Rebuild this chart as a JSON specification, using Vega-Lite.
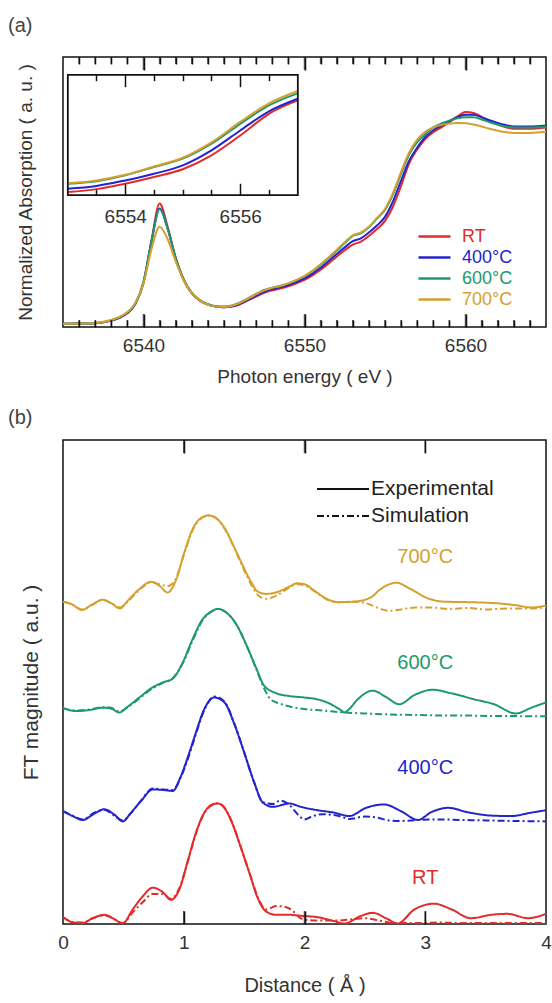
{
"$schema": "https://vega.github.io/schema/vega-lite/v6.json",
"padding": {"left": 7, "top": 15, "right": 5, "bottom": 3},
"background": "white",
"bounds": "flush",
"spacing": 113,
"config": {
  "font": "Liberation Sans",
  "view": {"stroke": "#111", "strokeWidth": 1.5},
  "axis": {"grid": false, "domain": false, "labelFontSize": 19, "labelColor": "#333", "labelFlush": false, "labelOverlap": false, "titleFontSize": 19, "titleFontWeight": "normal", "titleColor": "#333", "tickColor": "#111", "tickWidth": 1.5},
  "legend": {"labelFontSize": 18, "padding": 0},
  "title": {"fontWeight": "normal"}
},
"resolve": {"scale": {"color": "independent", "strokeDash": "independent"}, "legend": {"color": "independent", "strokeDash": "independent"}},
"datasets": {
"xanes": [
{"s":"RT","E":6535,"A":0.017},{"s":"RT","E":6536,"A":0.018},{"s":"RT","E":6537,"A":0.02},{"s":"RT","E":6538,"A":0.033},{"s":"RT","E":6538.5,"A":0.047},{"s":"RT","E":6539,"A":0.072},{"s":"RT","E":6539.5,"A":0.12},{"s":"RT","E":6540,"A":0.23},{"s":"RT","E":6540.5,"A":0.45},{"s":"RT","E":6541,"A":0.64},{"s":"RT","E":6541.5,"A":0.52},{"s":"RT","E":6542,"A":0.36},{"s":"RT","E":6542.5,"A":0.245},{"s":"RT","E":6543,"A":0.175},{"s":"RT","E":6543.5,"A":0.138},{"s":"RT","E":6544,"A":0.117},{"s":"RT","E":6544.5,"A":0.106},{"s":"RT","E":6545,"A":0.102},{"s":"RT","E":6545.5,"A":0.106},{"s":"RT","E":6546,"A":0.118},{"s":"RT","E":6546.5,"A":0.138},{"s":"RT","E":6547,"A":0.158},{"s":"RT","E":6547.5,"A":0.177},{"s":"RT","E":6548,"A":0.19},{"s":"RT","E":6548.5,"A":0.2},{"s":"RT","E":6549,"A":0.211},{"s":"RT","E":6549.5,"A":0.226},{"s":"RT","E":6550,"A":0.244},{"s":"RT","E":6550.5,"A":0.268},{"s":"RT","E":6551,"A":0.297},{"s":"RT","E":6551.5,"A":0.33},{"s":"RT","E":6552,"A":0.365},{"s":"RT","E":6552.5,"A":0.398},{"s":"RT","E":6553,"A":0.427},{"s":"RT","E":6553.5,"A":0.443},{"s":"RT","E":6554,"A":0.472},{"s":"RT","E":6554.5,"A":0.508},{"s":"RT","E":6555,"A":0.55},{"s":"RT","E":6555.5,"A":0.625},{"s":"RT","E":6556,"A":0.732},{"s":"RT","E":6556.5,"A":0.849},{"s":"RT","E":6557,"A":0.921},{"s":"RT","E":6557.5,"A":0.975},{"s":"RT","E":6558,"A":1.01},{"s":"RT","E":6558.5,"A":1.035},{"s":"RT","E":6559,"A":1.062},{"s":"RT","E":6559.5,"A":1.092},{"s":"RT","E":6560,"A":1.115},{"s":"RT","E":6560.5,"A":1.11},{"s":"RT","E":6561,"A":1.09},{"s":"RT","E":6561.5,"A":1.068},{"s":"RT","E":6562,"A":1.05},{"s":"RT","E":6562.5,"A":1.036},{"s":"RT","E":6563,"A":1.028},{"s":"RT","E":6564,"A":1.028},{"s":"RT","E":6565,"A":1.035},
{"s":"400°C","E":6535,"A":0.017},{"s":"400°C","E":6536,"A":0.018},{"s":"400°C","E":6537,"A":0.02},{"s":"400°C","E":6538,"A":0.033},{"s":"400°C","E":6538.5,"A":0.047},{"s":"400°C","E":6539,"A":0.072},{"s":"400°C","E":6539.5,"A":0.12},{"s":"400°C","E":6540,"A":0.23},{"s":"400°C","E":6540.5,"A":0.445},{"s":"400°C","E":6541,"A":0.615},{"s":"400°C","E":6541.5,"A":0.51},{"s":"400°C","E":6542,"A":0.355},{"s":"400°C","E":6542.5,"A":0.243},{"s":"400°C","E":6543,"A":0.174},{"s":"400°C","E":6543.5,"A":0.137},{"s":"400°C","E":6544,"A":0.116},{"s":"400°C","E":6544.5,"A":0.106},{"s":"400°C","E":6545,"A":0.103},{"s":"400°C","E":6545.5,"A":0.108},{"s":"400°C","E":6546,"A":0.121},{"s":"400°C","E":6546.5,"A":0.142},{"s":"400°C","E":6547,"A":0.163},{"s":"400°C","E":6547.5,"A":0.183},{"s":"400°C","E":6548,"A":0.196},{"s":"400°C","E":6548.5,"A":0.206},{"s":"400°C","E":6549,"A":0.217},{"s":"400°C","E":6549.5,"A":0.233},{"s":"400°C","E":6550,"A":0.252},{"s":"400°C","E":6550.5,"A":0.277},{"s":"400°C","E":6551,"A":0.307},{"s":"400°C","E":6551.5,"A":0.342},{"s":"400°C","E":6552,"A":0.378},{"s":"400°C","E":6552.5,"A":0.413},{"s":"400°C","E":6553,"A":0.445},{"s":"400°C","E":6553.5,"A":0.46},{"s":"400°C","E":6554,"A":0.49},{"s":"400°C","E":6554.5,"A":0.526},{"s":"400°C","E":6555,"A":0.571},{"s":"400°C","E":6555.5,"A":0.652},{"s":"400°C","E":6556,"A":0.759},{"s":"400°C","E":6556.5,"A":0.862},{"s":"400°C","E":6557,"A":0.93},{"s":"400°C","E":6557.5,"A":0.985},{"s":"400°C","E":6558,"A":1.02},{"s":"400°C","E":6558.5,"A":1.045},{"s":"400°C","E":6559,"A":1.068},{"s":"400°C","E":6559.5,"A":1.088},{"s":"400°C","E":6560,"A":1.1},{"s":"400°C","E":6560.5,"A":1.1},{"s":"400°C","E":6561,"A":1.087},{"s":"400°C","E":6561.5,"A":1.072},{"s":"400°C","E":6562,"A":1.058},{"s":"400°C","E":6562.5,"A":1.047},{"s":"400°C","E":6563,"A":1.04},{"s":"400°C","E":6564,"A":1.04},{"s":"400°C","E":6565,"A":1.045},
{"s":"600°C","E":6535,"A":0.017},{"s":"600°C","E":6536,"A":0.018},{"s":"600°C","E":6537,"A":0.021},{"s":"600°C","E":6538,"A":0.035},{"s":"600°C","E":6538.5,"A":0.05},{"s":"600°C","E":6539,"A":0.076},{"s":"600°C","E":6539.5,"A":0.125},{"s":"600°C","E":6540,"A":0.235},{"s":"600°C","E":6540.5,"A":0.445},{"s":"600°C","E":6541,"A":0.61},{"s":"600°C","E":6541.5,"A":0.51},{"s":"600°C","E":6542,"A":0.358},{"s":"600°C","E":6542.5,"A":0.247},{"s":"600°C","E":6543,"A":0.178},{"s":"600°C","E":6543.5,"A":0.14},{"s":"600°C","E":6544,"A":0.118},{"s":"600°C","E":6544.5,"A":0.108},{"s":"600°C","E":6545,"A":0.106},{"s":"600°C","E":6545.5,"A":0.112},{"s":"600°C","E":6546,"A":0.127},{"s":"600°C","E":6546.5,"A":0.149},{"s":"600°C","E":6547,"A":0.172},{"s":"600°C","E":6547.5,"A":0.192},{"s":"600°C","E":6548,"A":0.204},{"s":"600°C","E":6548.5,"A":0.214},{"s":"600°C","E":6549,"A":0.226},{"s":"600°C","E":6549.5,"A":0.243},{"s":"600°C","E":6550,"A":0.263},{"s":"600°C","E":6550.5,"A":0.29},{"s":"600°C","E":6551,"A":0.322},{"s":"600°C","E":6551.5,"A":0.358},{"s":"600°C","E":6552,"A":0.395},{"s":"600°C","E":6552.5,"A":0.435},{"s":"600°C","E":6553,"A":0.472},{"s":"600°C","E":6553.5,"A":0.486},{"s":"600°C","E":6554,"A":0.517},{"s":"600°C","E":6554.5,"A":0.562},{"s":"600°C","E":6555,"A":0.607},{"s":"600°C","E":6555.5,"A":0.688},{"s":"600°C","E":6556,"A":0.795},{"s":"600°C","E":6556.5,"A":0.894},{"s":"600°C","E":6557,"A":0.959},{"s":"600°C","E":6557.5,"A":1.0},{"s":"600°C","E":6558,"A":1.035},{"s":"600°C","E":6558.5,"A":1.055},{"s":"600°C","E":6559,"A":1.07},{"s":"600°C","E":6559.5,"A":1.082},{"s":"600°C","E":6560,"A":1.088},{"s":"600°C","E":6560.5,"A":1.088},{"s":"600°C","E":6561,"A":1.076},{"s":"600°C","E":6561.5,"A":1.062},{"s":"600°C","E":6562,"A":1.05},{"s":"600°C","E":6562.5,"A":1.04},{"s":"600°C","E":6563,"A":1.034},{"s":"600°C","E":6564,"A":1.034},{"s":"600°C","E":6565,"A":1.04},
{"s":"700°C","E":6535,"A":0.017},{"s":"700°C","E":6536,"A":0.018},{"s":"700°C","E":6537,"A":0.021},{"s":"700°C","E":6538,"A":0.036},{"s":"700°C","E":6538.5,"A":0.052},{"s":"700°C","E":6539,"A":0.078},{"s":"700°C","E":6539.5,"A":0.125},{"s":"700°C","E":6540,"A":0.225},{"s":"700°C","E":6540.5,"A":0.405},{"s":"700°C","E":6541,"A":0.52},{"s":"700°C","E":6541.5,"A":0.455},{"s":"700°C","E":6542,"A":0.34},{"s":"700°C","E":6542.5,"A":0.24},{"s":"700°C","E":6543,"A":0.175},{"s":"700°C","E":6543.5,"A":0.138},{"s":"700°C","E":6544,"A":0.116},{"s":"700°C","E":6544.5,"A":0.106},{"s":"700°C","E":6545,"A":0.104},{"s":"700°C","E":6545.5,"A":0.11},{"s":"700°C","E":6546,"A":0.125},{"s":"700°C","E":6546.5,"A":0.147},{"s":"700°C","E":6547,"A":0.17},{"s":"700°C","E":6547.5,"A":0.19},{"s":"700°C","E":6548,"A":0.203},{"s":"700°C","E":6548.5,"A":0.213},{"s":"700°C","E":6549,"A":0.226},{"s":"700°C","E":6549.5,"A":0.244},{"s":"700°C","E":6550,"A":0.265},{"s":"700°C","E":6550.5,"A":0.292},{"s":"700°C","E":6551,"A":0.325},{"s":"700°C","E":6551.5,"A":0.362},{"s":"700°C","E":6552,"A":0.4},{"s":"700°C","E":6552.5,"A":0.44},{"s":"700°C","E":6553,"A":0.475},{"s":"700°C","E":6553.5,"A":0.49},{"s":"700°C","E":6554,"A":0.52},{"s":"700°C","E":6554.5,"A":0.565},{"s":"700°C","E":6555,"A":0.612},{"s":"700°C","E":6555.5,"A":0.695},{"s":"700°C","E":6556,"A":0.805},{"s":"700°C","E":6556.5,"A":0.905},{"s":"700°C","E":6557,"A":0.972},{"s":"700°C","E":6557.5,"A":1.012},{"s":"700°C","E":6558,"A":1.035},{"s":"700°C","E":6558.5,"A":1.048},{"s":"700°C","E":6559,"A":1.055},{"s":"700°C","E":6559.5,"A":1.058},{"s":"700°C","E":6560,"A":1.057},{"s":"700°C","E":6560.5,"A":1.05},{"s":"700°C","E":6561,"A":1.04},{"s":"700°C","E":6561.5,"A":1.028},{"s":"700°C","E":6562,"A":1.018},{"s":"700°C","E":6562.5,"A":1.01},{"s":"700°C","E":6563,"A":1.006},{"s":"700°C","E":6564,"A":1.006},{"s":"700°C","E":6565,"A":1.012}
],
"xticks": [
{"E":6540,"k":"major"},{"E":6550,"k":"major"},{"E":6560,"k":"major"},
{"E":6536,"k":"minor"},{"E":6537,"k":"minor"},{"E":6538,"k":"minor"},{"E":6539,"k":"minor"},{"E":6541,"k":"minor"},{"E":6542,"k":"minor"},{"E":6543,"k":"minor"},{"E":6544,"k":"minor"},{"E":6545,"k":"minor"},{"E":6546,"k":"minor"},{"E":6547,"k":"minor"},{"E":6548,"k":"minor"},{"E":6549,"k":"minor"},{"E":6551,"k":"minor"},{"E":6552,"k":"minor"},{"E":6553,"k":"minor"},{"E":6554,"k":"minor"},{"E":6555,"k":"minor"},{"E":6556,"k":"minor"},{"E":6557,"k":"minor"},{"E":6558,"k":"minor"},{"E":6559,"k":"minor"},{"E":6561,"k":"minor"},{"E":6562,"k":"minor"},{"E":6563,"k":"minor"},{"E":6564,"k":"minor"}
],
"rticks": [{"R":1},{"R":2},{"R":3}],
"ft": [
{"s":"700°C","t":"Experimental","R":0,"FT":6.66},{"s":"700°C","t":"Experimental","R":0.07,"FT":6.61},{"s":"700°C","t":"Experimental","R":0.157,"FT":6.49},{"s":"700°C","t":"Experimental","R":0.246,"FT":6.61},{"s":"700°C","t":"Experimental","R":0.329,"FT":6.7},{"s":"700°C","t":"Experimental","R":0.398,"FT":6.63},{"s":"700°C","t":"Experimental","R":0.472,"FT":6.52},{"s":"700°C","t":"Experimental","R":0.536,"FT":6.68},{"s":"700°C","t":"Experimental","R":0.632,"FT":6.92},{"s":"700°C","t":"Experimental","R":0.729,"FT":7.07},{"s":"700°C","t":"Experimental","R":0.798,"FT":6.99},{"s":"700°C","t":"Experimental","R":0.867,"FT":6.85},{"s":"700°C","t":"Experimental","R":0.936,"FT":7.11},{"s":"700°C","t":"Experimental","R":1.005,"FT":7.68},{"s":"700°C","t":"Experimental","R":1.074,"FT":8.16},{"s":"700°C","t":"Experimental","R":1.143,"FT":8.39},{"s":"700°C","t":"Experimental","R":1.206,"FT":8.44},{"s":"700°C","t":"Experimental","R":1.281,"FT":8.36},{"s":"700°C","t":"Experimental","R":1.35,"FT":8.13},{"s":"700°C","t":"Experimental","R":1.419,"FT":7.78},{"s":"700°C","t":"Experimental","R":1.488,"FT":7.41},{"s":"700°C","t":"Experimental","R":1.557,"FT":7.07},{"s":"700°C","t":"Experimental","R":1.612,"FT":6.87},{"s":"700°C","t":"Experimental","R":1.681,"FT":6.82},{"s":"700°C","t":"Experimental","R":1.764,"FT":6.85},{"s":"700°C","t":"Experimental","R":1.874,"FT":6.97},{"s":"700°C","t":"Experimental","R":1.94,"FT":7.04},{"s":"700°C","t":"Experimental","R":2.0,"FT":7.02},{"s":"700°C","t":"Experimental","R":2.08,"FT":6.89},{"s":"700°C","t":"Experimental","R":2.19,"FT":6.71},{"s":"700°C","t":"Experimental","R":2.275,"FT":6.65},{"s":"700°C","t":"Experimental","R":2.41,"FT":6.66},{"s":"700°C","t":"Experimental","R":2.55,"FT":6.75},{"s":"700°C","t":"Experimental","R":2.63,"FT":6.92},{"s":"700°C","t":"Experimental","R":2.76,"FT":7.05},{"s":"700°C","t":"Experimental","R":2.88,"FT":6.92},{"s":"700°C","t":"Experimental","R":3.02,"FT":6.73},{"s":"700°C","t":"Experimental","R":3.16,"FT":6.66},{"s":"700°C","t":"Experimental","R":3.35,"FT":6.65},{"s":"700°C","t":"Experimental","R":3.57,"FT":6.63},{"s":"700°C","t":"Experimental","R":3.74,"FT":6.59},{"s":"700°C","t":"Experimental","R":3.88,"FT":6.54},{"s":"700°C","t":"Experimental","R":4.0,"FT":6.58},
{"s":"700°C","t":"Simulation","R":0,"FT":6.66},{"s":"700°C","t":"Simulation","R":0.07,"FT":6.61},{"s":"700°C","t":"Simulation","R":0.157,"FT":6.5},{"s":"700°C","t":"Simulation","R":0.246,"FT":6.6},{"s":"700°C","t":"Simulation","R":0.329,"FT":6.69},{"s":"700°C","t":"Simulation","R":0.398,"FT":6.63},{"s":"700°C","t":"Simulation","R":0.472,"FT":6.54},{"s":"700°C","t":"Simulation","R":0.536,"FT":6.66},{"s":"700°C","t":"Simulation","R":0.632,"FT":6.9},{"s":"700°C","t":"Simulation","R":0.729,"FT":7.06},{"s":"700°C","t":"Simulation","R":0.798,"FT":7.02},{"s":"700°C","t":"Simulation","R":0.867,"FT":6.98},{"s":"700°C","t":"Simulation","R":0.936,"FT":7.14},{"s":"700°C","t":"Simulation","R":1.005,"FT":7.66},{"s":"700°C","t":"Simulation","R":1.074,"FT":8.14},{"s":"700°C","t":"Simulation","R":1.143,"FT":8.38},{"s":"700°C","t":"Simulation","R":1.206,"FT":8.44},{"s":"700°C","t":"Simulation","R":1.281,"FT":8.36},{"s":"700°C","t":"Simulation","R":1.35,"FT":8.12},{"s":"700°C","t":"Simulation","R":1.419,"FT":7.76},{"s":"700°C","t":"Simulation","R":1.488,"FT":7.38},{"s":"700°C","t":"Simulation","R":1.557,"FT":7.02},{"s":"700°C","t":"Simulation","R":1.612,"FT":6.8},{"s":"700°C","t":"Simulation","R":1.681,"FT":6.72},{"s":"700°C","t":"Simulation","R":1.764,"FT":6.78},{"s":"700°C","t":"Simulation","R":1.874,"FT":6.95},{"s":"700°C","t":"Simulation","R":1.94,"FT":7.02},{"s":"700°C","t":"Simulation","R":2.0,"FT":7.0},{"s":"700°C","t":"Simulation","R":2.08,"FT":6.88},{"s":"700°C","t":"Simulation","R":2.19,"FT":6.7},{"s":"700°C","t":"Simulation","R":2.275,"FT":6.65},{"s":"700°C","t":"Simulation","R":2.41,"FT":6.66},{"s":"700°C","t":"Simulation","R":2.52,"FT":6.62},{"s":"700°C","t":"Simulation","R":2.6,"FT":6.54},{"s":"700°C","t":"Simulation","R":2.7,"FT":6.47},{"s":"700°C","t":"Simulation","R":2.8,"FT":6.5},{"s":"700°C","t":"Simulation","R":2.92,"FT":6.54},{"s":"700°C","t":"Simulation","R":3.05,"FT":6.54},{"s":"700°C","t":"Simulation","R":3.2,"FT":6.51},{"s":"700°C","t":"Simulation","R":3.35,"FT":6.53},{"s":"700°C","t":"Simulation","R":3.5,"FT":6.5},{"s":"700°C","t":"Simulation","R":3.7,"FT":6.52},{"s":"700°C","t":"Simulation","R":3.88,"FT":6.52},{"s":"700°C","t":"Simulation","R":4.0,"FT":6.54},
{"s":"600°C","t":"Experimental","R":0,"FT":4.46},{"s":"600°C","t":"Experimental","R":0.108,"FT":4.4},{"s":"600°C","t":"Experimental","R":0.218,"FT":4.42},{"s":"600°C","t":"Experimental","R":0.329,"FT":4.47},{"s":"600°C","t":"Experimental","R":0.398,"FT":4.45},{"s":"600°C","t":"Experimental","R":0.466,"FT":4.37},{"s":"600°C","t":"Experimental","R":0.536,"FT":4.49},{"s":"600°C","t":"Experimental","R":0.632,"FT":4.68},{"s":"600°C","t":"Experimental","R":0.743,"FT":4.89},{"s":"600°C","t":"Experimental","R":0.826,"FT":4.99},{"s":"600°C","t":"Experimental","R":0.909,"FT":5.07},{"s":"600°C","t":"Experimental","R":0.991,"FT":5.4},{"s":"600°C","t":"Experimental","R":1.074,"FT":5.89},{"s":"600°C","t":"Experimental","R":1.157,"FT":6.3},{"s":"600°C","t":"Experimental","R":1.226,"FT":6.45},{"s":"600°C","t":"Experimental","R":1.281,"FT":6.51},{"s":"600°C","t":"Experimental","R":1.35,"FT":6.44},{"s":"600°C","t":"Experimental","R":1.433,"FT":6.2},{"s":"600°C","t":"Experimental","R":1.516,"FT":5.78},{"s":"600°C","t":"Experimental","R":1.598,"FT":5.3},{"s":"600°C","t":"Experimental","R":1.667,"FT":4.92},{"s":"600°C","t":"Experimental","R":1.764,"FT":4.77},{"s":"600°C","t":"Experimental","R":1.874,"FT":4.71},{"s":"600°C","t":"Experimental","R":2.0,"FT":4.68},{"s":"600°C","t":"Experimental","R":2.11,"FT":4.64},{"s":"600°C","t":"Experimental","R":2.22,"FT":4.54},{"s":"600°C","t":"Experimental","R":2.3,"FT":4.42},{"s":"600°C","t":"Experimental","R":2.33,"FT":4.37},{"s":"600°C","t":"Experimental","R":2.37,"FT":4.44},{"s":"600°C","t":"Experimental","R":2.44,"FT":4.64},{"s":"600°C","t":"Experimental","R":2.565,"FT":4.82},{"s":"600°C","t":"Experimental","R":2.675,"FT":4.69},{"s":"600°C","t":"Experimental","R":2.785,"FT":4.54},{"s":"600°C","t":"Experimental","R":2.91,"FT":4.73},{"s":"600°C","t":"Experimental","R":3.06,"FT":4.84},{"s":"600°C","t":"Experimental","R":3.21,"FT":4.77},{"s":"600°C","t":"Experimental","R":3.41,"FT":4.64},{"s":"600°C","t":"Experimental","R":3.57,"FT":4.54},{"s":"600°C","t":"Experimental","R":3.75,"FT":4.35},{"s":"600°C","t":"Experimental","R":3.88,"FT":4.47},{"s":"600°C","t":"Experimental","R":4.0,"FT":4.58},
{"s":"600°C","t":"Simulation","R":0,"FT":4.46},{"s":"600°C","t":"Simulation","R":0.108,"FT":4.41},{"s":"600°C","t":"Simulation","R":0.218,"FT":4.43},{"s":"600°C","t":"Simulation","R":0.329,"FT":4.48},{"s":"600°C","t":"Simulation","R":0.398,"FT":4.47},{"s":"600°C","t":"Simulation","R":0.466,"FT":4.39},{"s":"600°C","t":"Simulation","R":0.536,"FT":4.48},{"s":"600°C","t":"Simulation","R":0.632,"FT":4.66},{"s":"600°C","t":"Simulation","R":0.743,"FT":4.87},{"s":"600°C","t":"Simulation","R":0.826,"FT":4.98},{"s":"600°C","t":"Simulation","R":0.909,"FT":5.08},{"s":"600°C","t":"Simulation","R":0.991,"FT":5.38},{"s":"600°C","t":"Simulation","R":1.074,"FT":5.86},{"s":"600°C","t":"Simulation","R":1.157,"FT":6.28},{"s":"600°C","t":"Simulation","R":1.226,"FT":6.45},{"s":"600°C","t":"Simulation","R":1.281,"FT":6.51},{"s":"600°C","t":"Simulation","R":1.35,"FT":6.44},{"s":"600°C","t":"Simulation","R":1.433,"FT":6.2},{"s":"600°C","t":"Simulation","R":1.516,"FT":5.78},{"s":"600°C","t":"Simulation","R":1.598,"FT":5.28},{"s":"600°C","t":"Simulation","R":1.667,"FT":4.86},{"s":"600°C","t":"Simulation","R":1.72,"FT":4.64},{"s":"600°C","t":"Simulation","R":1.8,"FT":4.55},{"s":"600°C","t":"Simulation","R":1.9,"FT":4.48},{"s":"600°C","t":"Simulation","R":2.0,"FT":4.44},{"s":"600°C","t":"Simulation","R":2.15,"FT":4.41},{"s":"600°C","t":"Simulation","R":2.33,"FT":4.37},{"s":"600°C","t":"Simulation","R":2.5,"FT":4.35},{"s":"600°C","t":"Simulation","R":2.7,"FT":4.33},{"s":"600°C","t":"Simulation","R":2.9,"FT":4.32},{"s":"600°C","t":"Simulation","R":3.1,"FT":4.31},{"s":"600°C","t":"Simulation","R":3.3,"FT":4.31},{"s":"600°C","t":"Simulation","R":3.5,"FT":4.3},{"s":"600°C","t":"Simulation","R":3.7,"FT":4.3},{"s":"600°C","t":"Simulation","R":3.85,"FT":4.29},{"s":"600°C","t":"Simulation","R":4.0,"FT":4.29},
{"s":"400°C","t":"Experimental","R":0,"FT":2.33},{"s":"400°C","t":"Experimental","R":0.08,"FT":2.23},{"s":"400°C","t":"Experimental","R":0.163,"FT":2.15},{"s":"400°C","t":"Experimental","R":0.26,"FT":2.28},{"s":"400°C","t":"Experimental","R":0.342,"FT":2.37},{"s":"400°C","t":"Experimental","R":0.425,"FT":2.26},{"s":"400°C","t":"Experimental","R":0.494,"FT":2.12},{"s":"400°C","t":"Experimental","R":0.563,"FT":2.3},{"s":"400°C","t":"Experimental","R":0.646,"FT":2.54},{"s":"400°C","t":"Experimental","R":0.743,"FT":2.78},{"s":"400°C","t":"Experimental","R":0.826,"FT":2.77},{"s":"400°C","t":"Experimental","R":0.909,"FT":2.75},{"s":"400°C","t":"Experimental","R":0.977,"FT":3.06},{"s":"400°C","t":"Experimental","R":1.046,"FT":3.54},{"s":"400°C","t":"Experimental","R":1.1,"FT":3.95},{"s":"400°C","t":"Experimental","R":1.17,"FT":4.44},{"s":"400°C","t":"Experimental","R":1.253,"FT":4.68},{"s":"400°C","t":"Experimental","R":1.336,"FT":4.58},{"s":"400°C","t":"Experimental","R":1.419,"FT":4.13},{"s":"400°C","t":"Experimental","R":1.501,"FT":3.54},{"s":"400°C","t":"Experimental","R":1.584,"FT":2.92},{"s":"400°C","t":"Experimental","R":1.654,"FT":2.51},{"s":"400°C","t":"Experimental","R":1.737,"FT":2.42},{"s":"400°C","t":"Experimental","R":1.874,"FT":2.49},{"s":"400°C","t":"Experimental","R":1.971,"FT":2.42},{"s":"400°C","t":"Experimental","R":2.11,"FT":2.35},{"s":"400°C","t":"Experimental","R":2.247,"FT":2.3},{"s":"400°C","t":"Experimental","R":2.37,"FT":2.23},{"s":"400°C","t":"Experimental","R":2.51,"FT":2.4},{"s":"400°C","t":"Experimental","R":2.66,"FT":2.47},{"s":"400°C","t":"Experimental","R":2.8,"FT":2.33},{"s":"400°C","t":"Experimental","R":2.94,"FT":2.15},{"s":"400°C","t":"Experimental","R":3.05,"FT":2.31},{"s":"400°C","t":"Experimental","R":3.19,"FT":2.4},{"s":"400°C","t":"Experimental","R":3.35,"FT":2.31},{"s":"400°C","t":"Experimental","R":3.545,"FT":2.24},{"s":"400°C","t":"Experimental","R":3.71,"FT":2.23},{"s":"400°C","t":"Experimental","R":3.876,"FT":2.3},{"s":"400°C","t":"Experimental","R":4.0,"FT":2.35},
{"s":"400°C","t":"Simulation","R":0,"FT":2.33},{"s":"400°C","t":"Simulation","R":0.08,"FT":2.24},{"s":"400°C","t":"Simulation","R":0.163,"FT":2.16},{"s":"400°C","t":"Simulation","R":0.26,"FT":2.3},{"s":"400°C","t":"Simulation","R":0.342,"FT":2.36},{"s":"400°C","t":"Simulation","R":0.425,"FT":2.24},{"s":"400°C","t":"Simulation","R":0.494,"FT":2.14},{"s":"400°C","t":"Simulation","R":0.563,"FT":2.29},{"s":"400°C","t":"Simulation","R":0.646,"FT":2.55},{"s":"400°C","t":"Simulation","R":0.743,"FT":2.8},{"s":"400°C","t":"Simulation","R":0.826,"FT":2.78},{"s":"400°C","t":"Simulation","R":0.909,"FT":2.77},{"s":"400°C","t":"Simulation","R":0.977,"FT":3.04},{"s":"400°C","t":"Simulation","R":1.046,"FT":3.5},{"s":"400°C","t":"Simulation","R":1.1,"FT":3.92},{"s":"400°C","t":"Simulation","R":1.17,"FT":4.42},{"s":"400°C","t":"Simulation","R":1.253,"FT":4.7},{"s":"400°C","t":"Simulation","R":1.336,"FT":4.6},{"s":"400°C","t":"Simulation","R":1.419,"FT":4.14},{"s":"400°C","t":"Simulation","R":1.501,"FT":3.54},{"s":"400°C","t":"Simulation","R":1.584,"FT":2.92},{"s":"400°C","t":"Simulation","R":1.654,"FT":2.52},{"s":"400°C","t":"Simulation","R":1.737,"FT":2.48},{"s":"400°C","t":"Simulation","R":1.8,"FT":2.55},{"s":"400°C","t":"Simulation","R":1.874,"FT":2.46},{"s":"400°C","t":"Simulation","R":1.95,"FT":2.25},{"s":"400°C","t":"Simulation","R":2.0,"FT":2.16},{"s":"400°C","t":"Simulation","R":2.06,"FT":2.22},{"s":"400°C","t":"Simulation","R":2.15,"FT":2.27},{"s":"400°C","t":"Simulation","R":2.3,"FT":2.22},{"s":"400°C","t":"Simulation","R":2.37,"FT":2.17},{"s":"400°C","t":"Simulation","R":2.5,"FT":2.22},{"s":"400°C","t":"Simulation","R":2.6,"FT":2.2},{"s":"400°C","t":"Simulation","R":2.7,"FT":2.14},{"s":"400°C","t":"Simulation","R":2.8,"FT":2.13},{"s":"400°C","t":"Simulation","R":2.94,"FT":2.15},{"s":"400°C","t":"Simulation","R":3.1,"FT":2.16},{"s":"400°C","t":"Simulation","R":3.3,"FT":2.15},{"s":"400°C","t":"Simulation","R":3.5,"FT":2.14},{"s":"400°C","t":"Simulation","R":3.7,"FT":2.13},{"s":"400°C","t":"Simulation","R":4.0,"FT":2.12},
{"s":"RT","t":"Experimental","R":0,"FT":0.145},{"s":"RT","t":"Experimental","R":0.08,"FT":0.035},{"s":"RT","t":"Experimental","R":0.163,"FT":0.02},{"s":"RT","t":"Experimental","R":0.246,"FT":0.12},{"s":"RT","t":"Experimental","R":0.342,"FT":0.19},{"s":"RT","t":"Experimental","R":0.425,"FT":0.1},{"s":"RT","t":"Experimental","R":0.494,"FT":0.01},{"s":"RT","t":"Experimental","R":0.577,"FT":0.3},{"s":"RT","t":"Experimental","R":0.66,"FT":0.57},{"s":"RT","t":"Experimental","R":0.743,"FT":0.75},{"s":"RT","t":"Experimental","R":0.826,"FT":0.66},{"s":"RT","t":"Experimental","R":0.894,"FT":0.5},{"s":"RT","t":"Experimental","R":0.963,"FT":0.71},{"s":"RT","t":"Experimental","R":1.033,"FT":1.3},{"s":"RT","t":"Experimental","R":1.1,"FT":1.88},{"s":"RT","t":"Experimental","R":1.17,"FT":2.3},{"s":"RT","t":"Experimental","R":1.24,"FT":2.47},{"s":"RT","t":"Experimental","R":1.281,"FT":2.49},{"s":"RT","t":"Experimental","R":1.336,"FT":2.4},{"s":"RT","t":"Experimental","R":1.405,"FT":2.06},{"s":"RT","t":"Experimental","R":1.474,"FT":1.57},{"s":"RT","t":"Experimental","R":1.543,"FT":1.06},{"s":"RT","t":"Experimental","R":1.612,"FT":0.54},{"s":"RT","t":"Experimental","R":1.681,"FT":0.26},{"s":"RT","t":"Experimental","R":1.764,"FT":0.19},{"s":"RT","t":"Experimental","R":1.874,"FT":0.19},{"s":"RT","t":"Experimental","R":1.971,"FT":0.17},{"s":"RT","t":"Experimental","R":2.11,"FT":0.14},{"s":"RT","t":"Experimental","R":2.247,"FT":0.06},{"s":"RT","t":"Experimental","R":2.33,"FT":0.01},{"s":"RT","t":"Experimental","R":2.47,"FT":0.17},{"s":"RT","t":"Experimental","R":2.565,"FT":0.23},{"s":"RT","t":"Experimental","R":2.69,"FT":0.1},{"s":"RT","t":"Experimental","R":2.77,"FT":0.01},{"s":"RT","t":"Experimental","R":2.91,"FT":0.3},{"s":"RT","t":"Experimental","R":3.075,"FT":0.42},{"s":"RT","t":"Experimental","R":3.21,"FT":0.31},{"s":"RT","t":"Experimental","R":3.38,"FT":0.12},{"s":"RT","t":"Experimental","R":3.545,"FT":0.19},{"s":"RT","t":"Experimental","R":3.68,"FT":0.21},{"s":"RT","t":"Experimental","R":3.85,"FT":0.12},{"s":"RT","t":"Experimental","R":4.0,"FT":0.21},
{"s":"RT","t":"Simulation","R":0,"FT":0.145},{"s":"RT","t":"Simulation","R":0.08,"FT":0.04},{"s":"RT","t":"Simulation","R":0.163,"FT":0.03},{"s":"RT","t":"Simulation","R":0.246,"FT":0.12},{"s":"RT","t":"Simulation","R":0.342,"FT":0.18},{"s":"RT","t":"Simulation","R":0.425,"FT":0.1},{"s":"RT","t":"Simulation","R":0.494,"FT":0.02},{"s":"RT","t":"Simulation","R":0.577,"FT":0.24},{"s":"RT","t":"Simulation","R":0.66,"FT":0.45},{"s":"RT","t":"Simulation","R":0.743,"FT":0.62},{"s":"RT","t":"Simulation","R":0.826,"FT":0.62},{"s":"RT","t":"Simulation","R":0.894,"FT":0.52},{"s":"RT","t":"Simulation","R":0.963,"FT":0.74},{"s":"RT","t":"Simulation","R":1.033,"FT":1.28},{"s":"RT","t":"Simulation","R":1.1,"FT":1.86},{"s":"RT","t":"Simulation","R":1.17,"FT":2.29},{"s":"RT","t":"Simulation","R":1.24,"FT":2.47},{"s":"RT","t":"Simulation","R":1.281,"FT":2.49},{"s":"RT","t":"Simulation","R":1.336,"FT":2.41},{"s":"RT","t":"Simulation","R":1.405,"FT":2.07},{"s":"RT","t":"Simulation","R":1.474,"FT":1.58},{"s":"RT","t":"Simulation","R":1.543,"FT":1.07},{"s":"RT","t":"Simulation","R":1.612,"FT":0.56},{"s":"RT","t":"Simulation","R":1.681,"FT":0.3},{"s":"RT","t":"Simulation","R":1.764,"FT":0.37},{"s":"RT","t":"Simulation","R":1.83,"FT":0.36},{"s":"RT","t":"Simulation","R":1.9,"FT":0.28},{"s":"RT","t":"Simulation","R":1.95,"FT":0.15},{"s":"RT","t":"Simulation","R":2.0,"FT":0.09},{"s":"RT","t":"Simulation","R":2.1,"FT":0.07},{"s":"RT","t":"Simulation","R":2.25,"FT":0.07},{"s":"RT","t":"Simulation","R":2.4,"FT":0.1},{"s":"RT","t":"Simulation","R":2.5,"FT":0.12},{"s":"RT","t":"Simulation","R":2.6,"FT":0.08},{"s":"RT","t":"Simulation","R":2.75,"FT":0.02},{"s":"RT","t":"Simulation","R":2.9,"FT":0.02},{"s":"RT","t":"Simulation","R":3.1,"FT":0.03},{"s":"RT","t":"Simulation","R":3.3,"FT":0.02},{"s":"RT","t":"Simulation","R":3.5,"FT":0.02},{"s":"RT","t":"Simulation","R":3.7,"FT":0.02},{"s":"RT","t":"Simulation","R":4.0,"FT":0.02}
],
"ftlabels": [
{"s":"700°C","R":3.0,"FT":7.58},{"s":"600°C","R":3.0,"FT":5.39},{"s":"400°C","R":3.0,"FT":3.22},{"s":"RT","R":3.0,"FT":0.95}
],
"frame": [{"part": "inset"}]
},
"vconcat": [
{
  "title": {"text": "(a)", "anchor": "start", "frame": "group", "dx": -55, "offset": 20, "fontSize": 20, "fontWeight": "normal", "color": "#444"},
  "width": 483,
  "height": 270,
  "resolve": {"scale": {"x": "independent", "y": "independent"}},
  "layer": [
    {
      "data": {"name": "xanes"},
      "mark": {"type": "line", "strokeWidth": 2, "interpolate": "monotone"},
      "encoding": {
        "x": {"field": "E", "type": "quantitative", "scale": {"domain": [6535, 6565], "nice": false, "zero": false},
              "axis": {"orient": "bottom", "values": [6540, 6550, 6560], "format": "d", "ticks": false, "labelPadding": 9, "title": "Photon energy ( eV )", "titlePadding": 12}},
        "y": {"field": "A", "type": "quantitative", "scale": {"domain": [0, 1.4], "nice": false, "zero": false},
              "axis": {"title": "Normalized Absorption ( a. u. )", "labels": false, "ticks": false, "titlePadding": 28}},
        "color": {"field": "s", "type": "nominal",
                  "scale": {"domain": ["RT", "400°C", "600°C", "700°C"], "range": ["#e42a2a", "#2424cc", "#1e9a6a", "#d6a030"]},
                  "legend": {"orient": "none", "legendX": 366, "legendY": 168, "title": null, "symbolType": "M-2.2,0H1", "symbolSize": 400, "symbolStrokeWidth": 2.5, "labelFontSize": 18, "labelOffset": 10, "rowPadding": 0,
                             "encode": {"labels": {"update": {"fill": {"signal": "datum.value === 'RT' ? '#e42a2a' : datum.value === '400°C' ? '#2424cc' : datum.value === '600°C' ? '#1e9a6a' : '#d6a030'"}}}}}}
      }
    },
    {
      "resolve": {"axis": {"x": "independent"}},
      "layer": [
        {
          "data": {"name": "frame"},
          "mark": {"type": "rect", "fill": "white", "stroke": "#111", "strokeWidth": 1.5},
          "encoding": {
            "x": {"datum": 6553, "type": "quantitative", "scale": {"domain": [6552.918, 6561.318], "nice": false, "zero": false},
                  "axis": {"orient": "bottom", "offset": -131.7, "values": [6554, 6556], "format": "d", "tickSize": -12, "labelPadding": 24, "title": null, "zindex": 2}},
            "x2": {"datum": 6557},
            "y": {"datum": 0.41, "type": "quantitative", "scale": {"domain": [-0.3, 1.155], "nice": false, "zero": false}, "axis": null},
            "y2": {"datum": 1.06}
          }
        },
        {
          "data": {"name": "xanes"},
          "transform": [{"filter": "datum.E >= 6553 && datum.E <= 6557"}],
          "mark": {"type": "line", "strokeWidth": 2, "interpolate": "monotone"},
          "encoding": {
            "x": {"field": "E", "type": "quantitative", "scale": {"domain": [6552.918, 6561.318], "nice": false, "zero": false},
                  "axis": {"orient": "bottom", "offset": -131.7, "values": [6553.5, 6554.5, 6555, 6555.5, 6556.5], "tickSize": -6, "labels": false, "title": null, "zindex": 2}},
            "y": {"field": "A", "type": "quantitative", "scale": {"domain": [-0.3, 1.155], "nice": false, "zero": false}, "axis": null},
            "color": {"field": "s", "type": "nominal",
                      "scale": {"domain": ["RT", "400°C", "600°C", "700°C"], "range": ["#e42a2a", "#2424cc", "#1e9a6a", "#d6a030"]},
                      "legend": {"orient": "none", "legendX": 366, "legendY": 168, "title": null, "symbolType": "M-2.2,0H1", "symbolSize": 400, "symbolStrokeWidth": 2.5, "labelFontSize": 18, "labelOffset": 10, "rowPadding": 0,
                                 "encode": {"labels": {"update": {"fill": {"signal": "datum.value === 'RT' ? '#e42a2a' : datum.value === '400°C' ? '#2424cc' : datum.value === '600°C' ? '#1e9a6a' : '#d6a030'"}}}}}}
          }
        },
        {
          "data": {"name": "frame"},
          "mark": {"type": "rect", "fillOpacity": 0, "stroke": "#111", "strokeWidth": 1.5},
          "encoding": {
            "x": {"datum": 6553, "type": "quantitative", "scale": {"domain": [6552.918, 6561.318], "nice": false, "zero": false},
                  "axis": {"orient": "top", "offset": -17.7, "values": [6554, 6556], "tickSize": -12, "labels": false, "title": null, "zindex": 2}},
            "x2": {"datum": 6557},
            "y": {"datum": 0.41, "type": "quantitative", "scale": {"domain": [-0.3, 1.155], "nice": false, "zero": false}, "axis": null},
            "y2": {"datum": 1.06}
          }
        },
        {
          "data": {"name": "frame"},
          "mark": {"type": "rect", "fillOpacity": 0, "strokeOpacity": 0},
          "encoding": {
            "x": {"datum": 6553, "type": "quantitative", "scale": {"domain": [6552.918, 6561.318], "nice": false, "zero": false},
                  "axis": {"orient": "top", "offset": -17.7, "values": [6553.5, 6554.5, 6555, 6555.5, 6556.5], "tickSize": -6, "labels": false, "title": null, "zindex": 2}},
            "x2": {"datum": 6557},
            "y": {"datum": 0.41, "type": "quantitative", "scale": {"domain": [-0.3, 1.155], "nice": false, "zero": false}, "axis": null},
            "y2": {"datum": 1.06}
          }
        }
      ]
    },
    {
      "resolve": {"axis": {"x": "independent"}},
      "layer": [
        {
          "data": {"name": "frame"},
          "mark": {"type": "rect", "fillOpacity": 0, "strokeOpacity": 0},
          "encoding": {
            "x": {"datum": 6536, "type": "quantitative", "scale": {"domain": [6535, 6565], "nice": false, "zero": false},
                  "axis": {"orient": "top", "offset": -257, "values": [6540, 6550, 6560], "tickSize": -13, "labels": false, "title": null, "zindex": 2}},
            "x2": {"datum": 6537},
            "y": {"datum": 0.4, "type": "quantitative", "scale": {"domain": [0, 1], "nice": false, "zero": false}, "axis": null},
            "y2": {"datum": 0.5}
          }
        },
        {
          "data": {"name": "frame"},
          "mark": {"type": "rect", "fillOpacity": 0, "strokeOpacity": 0},
          "encoding": {
            "x": {"datum": 6536, "type": "quantitative", "scale": {"domain": [6535, 6565], "nice": false, "zero": false},
                  "axis": {"orient": "top", "offset": -263, "values": [6536,6537,6538,6539,6541,6542,6543,6544,6545,6546,6547,6548,6549,6551,6552,6553,6554,6555,6556,6557,6558,6559,6561,6562,6563,6564], "tickSize": -7, "labels": false, "title": null, "zindex": 2}},
            "x2": {"datum": 6537},
            "y": {"datum": 0.4, "type": "quantitative", "scale": {"domain": [0, 1], "nice": false, "zero": false}, "axis": null},
            "y2": {"datum": 0.5}
          }
        },
        {
          "data": {"name": "frame"},
          "mark": {"type": "rect", "fillOpacity": 0, "strokeOpacity": 0},
          "encoding": {
            "x": {"datum": 6536, "type": "quantitative", "scale": {"domain": [6535, 6565], "nice": false, "zero": false},
                  "axis": {"orient": "bottom", "offset": -257, "values": [6540, 6550, 6560], "tickSize": -13, "labels": false, "title": null, "zindex": 2}},
            "x2": {"datum": 6537},
            "y": {"datum": 0.4, "type": "quantitative", "scale": {"domain": [0, 1], "nice": false, "zero": false}, "axis": null},
            "y2": {"datum": 0.5}
          }
        },
        {
          "data": {"name": "frame"},
          "mark": {"type": "rect", "fillOpacity": 0, "strokeOpacity": 0},
          "encoding": {
            "x": {"datum": 6536, "type": "quantitative", "scale": {"domain": [6535, 6565], "nice": false, "zero": false},
                  "axis": {"orient": "bottom", "offset": -263, "values": [6536,6537,6538,6539,6541,6542,6543,6544,6545,6546,6547,6548,6549,6551,6552,6553,6554,6555,6556,6557,6558,6559,6561,6562,6563,6564], "tickSize": -7, "labels": false, "title": null, "zindex": 2}},
            "x2": {"datum": 6537},
            "y": {"datum": 0.4, "type": "quantitative", "scale": {"domain": [0, 1], "nice": false, "zero": false}, "axis": null},
            "y2": {"datum": 0.5}
          }
        },
        {
          "data": {"name": "xticks"},
          "transform": [{"filter": "datum.k === 'major'"}],
          "mark": {"type": "tick", "orient": "vertical", "color": "#111", "thickness": 1.5, "size": 26, "clip": true},
          "encoding": {
            "x": {"field": "E", "type": "quantitative", "scale": {"domain": [6535, 6565], "nice": false, "zero": false}, "axis": null},
            "y": {"datum": 0, "type": "quantitative", "scale": {"domain": [0, 1], "nice": false, "zero": false}, "axis": null}
          }
        },
        {
          "data": {"name": "xticks"},
          "transform": [{"filter": "datum.k === 'minor'"}],
          "mark": {"type": "tick", "orient": "vertical", "color": "#111", "thickness": 1.5, "size": 14, "clip": true},
          "encoding": {
            "x": {"field": "E", "type": "quantitative", "scale": {"domain": [6535, 6565], "nice": false, "zero": false}, "axis": null},
            "y": {"datum": 0, "type": "quantitative", "scale": {"domain": [0, 1], "nice": false, "zero": false}, "axis": null}
          }
        },
        {
          "data": {"name": "xticks"},
          "transform": [{"filter": "datum.k === 'major'"}],
          "mark": {"type": "tick", "orient": "vertical", "color": "#111", "thickness": 1.5, "size": 26, "clip": true},
          "encoding": {
            "x": {"field": "E", "type": "quantitative", "scale": {"domain": [6535, 6565], "nice": false, "zero": false}, "axis": null},
            "y": {"datum": 1, "type": "quantitative", "scale": {"domain": [0, 1], "nice": false, "zero": false}, "axis": null}
          }
        },
        {
          "data": {"name": "xticks"},
          "transform": [{"filter": "datum.k === 'minor'"}],
          "mark": {"type": "tick", "orient": "vertical", "color": "#111", "thickness": 1.5, "size": 14, "clip": true},
          "encoding": {
            "x": {"field": "E", "type": "quantitative", "scale": {"domain": [6535, 6565], "nice": false, "zero": false}, "axis": null},
            "y": {"datum": 1, "type": "quantitative", "scale": {"domain": [0, 1], "nice": false, "zero": false}, "axis": null}
          }
        }
      ]
    }
  ]
},
{
  "title": {"text": "(b)", "anchor": "start", "frame": "group", "dx": -55, "offset": 11, "fontSize": 20, "fontWeight": "normal", "color": "#444"},
  "width": 483,
  "height": 484,
  "resolve": {"scale": {"x": "independent", "y": "independent"}},
  "layer": [
    {
      "layer": [
        {
          "data": {"name": "ft"},
          "mark": {"type": "line", "strokeWidth": 2, "interpolate": "monotone", "clip": true},
          "encoding": {
            "x": {"field": "R", "type": "quantitative", "scale": {"domain": [0, 4], "nice": false, "zero": false},
                  "axis": {"orient": "bottom", "values": [0, 1, 2, 3, 4], "ticks": false, "labelPadding": 9, "title": "Distance ( Å )", "titleFontSize": 20, "titlePadding": 23}},
            "y": {"field": "FT", "type": "quantitative", "scale": {"domain": [0, 10], "nice": false, "zero": false},
                  "axis": {"title": "FT magnitude ( a.u. )", "titleFontSize": 21, "labels": false, "ticks": false, "titlePadding": 22}},
            "color": {"field": "s", "type": "nominal", "scale": {"domain": ["RT", "400°C", "600°C", "700°C"], "range": ["#e42a2a", "#2424cc", "#1e9a6a", "#d6a030"]}, "legend": null},
            "strokeDash": {"field": "t", "type": "nominal", "scale": {"domain": ["Experimental", "Simulation"], "range": [[1, 0], [7, 3, 2, 3]]},
                           "legend": {"orient": "none", "legendX": 285, "legendY": 38, "title": null, "symbolType": "M-4.2,0H1", "symbolSize": 400, "symbolStrokeColor": "#111", "symbolStrokeWidth": 2, "labelFontSize": 21, "labelColor": "#222", "labelOffset": 1, "rowPadding": 6}}
          }
        },
        {
          "data": {"name": "ftlabels"},
          "mark": {"type": "text", "fontSize": 20},
          "encoding": {
            "x": {"field": "R", "type": "quantitative", "scale": {"domain": [0, 4], "nice": false, "zero": false},
                  "axis": {"orient": "bottom", "values": [0, 1, 2, 3, 4], "ticks": false, "labelPadding": 9, "title": "Distance ( Å )", "titleFontSize": 20, "titlePadding": 23}},
            "y": {"field": "FT", "type": "quantitative", "scale": {"domain": [0, 10], "nice": false, "zero": false},
                  "axis": {"title": "FT magnitude ( a.u. )", "titleFontSize": 21, "labels": false, "ticks": false, "titlePadding": 22}},
            "text": {"field": "s"},
            "color": {"field": "s", "type": "nominal", "scale": {"domain": ["RT", "400°C", "600°C", "700°C"], "range": ["#e42a2a", "#2424cc", "#1e9a6a", "#d6a030"]}, "legend": null}
          }
        }
      ]
    },
    {
      "resolve": {"axis": {"x": "independent"}},
      "layer": [
        {
          "data": {"name": "frame"},
          "mark": {"type": "rect", "fillOpacity": 0, "strokeOpacity": 0},
          "encoding": {
            "x": {"datum": 0.1, "type": "quantitative", "scale": {"domain": [0, 4], "nice": false, "zero": false},
                  "axis": {"orient": "top", "offset": -471, "values": [1, 2, 3], "tickSize": -13, "labels": false, "title": null, "zindex": 2}},
            "x2": {"datum": 0.2},
            "y": {"datum": 0.4, "type": "quantitative", "scale": {"domain": [0, 1], "nice": false, "zero": false}, "axis": null},
            "y2": {"datum": 0.5}
          }
        },
        {
          "data": {"name": "frame"},
          "mark": {"type": "rect", "fillOpacity": 0, "strokeOpacity": 0},
          "encoding": {
            "x": {"datum": 0.1, "type": "quantitative", "scale": {"domain": [0, 4], "nice": false, "zero": false},
                  "axis": {"orient": "bottom", "offset": -471, "values": [1, 2, 3], "tickSize": -13, "labels": false, "title": null, "zindex": 2}},
            "x2": {"datum": 0.2},
            "y": {"datum": 0.4, "type": "quantitative", "scale": {"domain": [0, 1], "nice": false, "zero": false}, "axis": null},
            "y2": {"datum": 0.5}
          }
        },
        {
          "data": {"name": "rticks"},
          "mark": {"type": "tick", "orient": "vertical", "color": "#111", "thickness": 1.5, "size": 26, "clip": true},
          "encoding": {
            "x": {"field": "R", "type": "quantitative", "scale": {"domain": [0, 4], "nice": false, "zero": false}, "axis": null},
            "y": {"datum": 0, "type": "quantitative", "scale": {"domain": [0, 1], "nice": false, "zero": false}, "axis": null}
          }
        },
        {
          "data": {"name": "rticks"},
          "mark": {"type": "tick", "orient": "vertical", "color": "#111", "thickness": 1.5, "size": 26, "clip": true},
          "encoding": {
            "x": {"field": "R", "type": "quantitative", "scale": {"domain": [0, 4], "nice": false, "zero": false}, "axis": null},
            "y": {"datum": 1, "type": "quantitative", "scale": {"domain": [0, 1], "nice": false, "zero": false}, "axis": null}
          }
        }
      ]
    }
  ]
}
]
}
